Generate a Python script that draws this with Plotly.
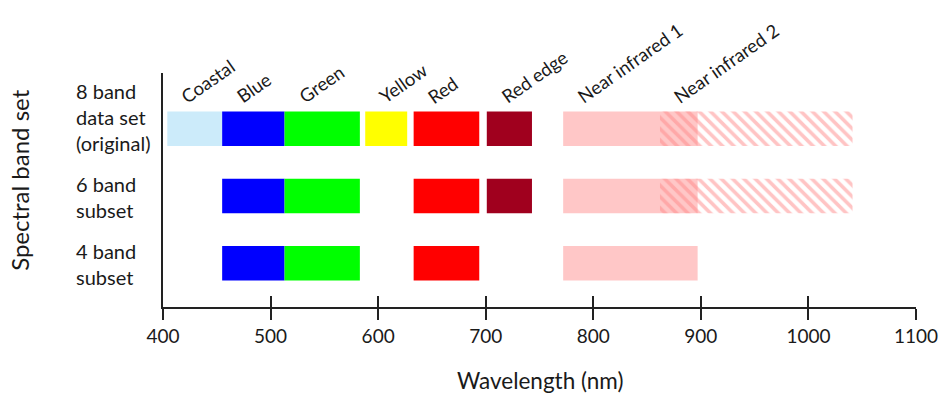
import plotly.graph_objects as go

# ---- data ----
bands = ["Coastal", "Blue", "Green", "Yellow", "Red", "Red edge",
         "Near infrared 1", "Near infrared 2"]
band_start = [404, 455, 513, 588, 633, 701, 772, 862]
band_end = [455, 513, 583, 627, 694, 743, 897, 1041]
band_colors = ["#CCEBFA", "#0000FF", "#00FF00", "#FFFF00", "#FF0000",
               "#A0001E", "#FFC7C7", "#FF8A8A"]
band_hatched = [False, False, False, False, False, False, False, True]

rows = ["8 band data set (original)", "6 band subset", "4 band subset"]
row_labels = ["8 band<br>data set<br>(original)", "6 band<br>subset", "4 band<br>subset"]
row_members = [
    ["Coastal", "Blue", "Green", "Yellow", "Red", "Red edge", "Near infrared 1", "Near infrared 2"],
    ["Blue", "Green", "Red", "Red edge", "Near infrared 1", "Near infrared 2"],
    ["Blue", "Green", "Red", "Near infrared 1"],
]

x_ticks = [400, 500, 600, 700, 800, 900, 1000, 1100]
x_title = "Wavelength (nm)"
y_title = "Spectral band set"

FONT = "Lato, Carlito, 'Liberation Sans', sans-serif"
TXT = "#1a1a1a"

fig = go.Figure()

for b, s, e, c, h in zip(bands, band_start, band_end, band_colors, band_hatched):
    ys = [r for r, m in zip(rows, row_members) if b in m]
    marker = dict(color=c, line=dict(width=0))
    if h:
        marker = dict(color="rgba(0,0,0,0)", line=dict(width=0),
                      pattern=dict(shape="\\", fgcolor=c, size=8,
                                   solidity=0.45, fillmode="overlay"))
    fig.add_trace(go.Bar(
        y=ys, x=[e - s] * len(ys), base=[s] * len(ys),
        orientation="h", marker=marker, width=0.513,
        name=b, showlegend=False, hoverinfo="skip"))

# dummy trace for the second x axis (upward tick marks)
fig.add_trace(go.Scatter(x=[], y=[], xaxis="x2", yaxis="y", mode="markers",
                         showlegend=False, hoverinfo="skip"))

# band labels
for b, s in zip(bands, band_start):
    fig.add_annotation(x=s + 7, y=0.84, xref="x", yref="paper",
                       text=b, showarrow=False, textangle=-35,
                       xanchor="left", yanchor="bottom",
                       font=dict(family=FONT, size=18.5, color=TXT))

# row labels
for i, (r, lab) in enumerate(zip(rows, row_labels)):
    fig.add_annotation(x=-0.1182, y=r, xref="paper", yref="y",
                       text=lab, showarrow=False, align="left",
                       xanchor="left", yanchor="middle",
                       yshift=12 if i == 0 else -1,
                       font=dict(family=FONT, size=20, color=TXT))

# y title
fig.add_annotation(x=-0.19, y=0.543, xref="paper", yref="paper",
                   text=y_title, showarrow=False, textangle=-90,
                   xanchor="center", yanchor="middle",
                   font=dict(family=FONT, size=24, color=TXT))

# x title
fig.add_annotation(x=0.5, y=-0.312, xref="paper", yref="paper",
                   text=x_title, showarrow=False,
                   xanchor="center", yanchor="middle",
                   font=dict(family=FONT, size=22.5, color=TXT))

fig.update_layout(
    width=939, height=394,
    margin=dict(l=163, r=23, t=73, b=87, autoexpand=False),
    paper_bgcolor="white", plot_bgcolor="white",
    barmode="overlay",
    font=dict(family=FONT, color=TXT),
    xaxis=dict(range=[400, 1100], tickvals=x_ticks, automargin=False,
               ticks="outside", ticklen=11, tickwidth=1.6, tickcolor="#222",
               showline=True, linecolor="#222", linewidth=2,
               showgrid=False, zeroline=False,
               tickfont=dict(family=FONT, size=19, color=TXT)),
    xaxis2=dict(range=[400, 1100], tickvals=x_ticks, overlaying="x",
                anchor="y", side="bottom", automargin=False,
                ticks="inside", ticklen=11, tickwidth=1.6, tickcolor="#222",
                showticklabels=False, showline=False, showgrid=False,
                zeroline=False),
    yaxis=dict(type="category", categoryarray=rows, automargin=False,
               range=[2.649, -0.829],
               showline=True, linecolor="#222", linewidth=2,
               showticklabels=False, ticks="", showgrid=False,
               zeroline=False),
)

fig.write_html("out.html", config={"displayModeBar": False},
               post_script="document.body.style.margin='0';document.body.style.padding='0';")
